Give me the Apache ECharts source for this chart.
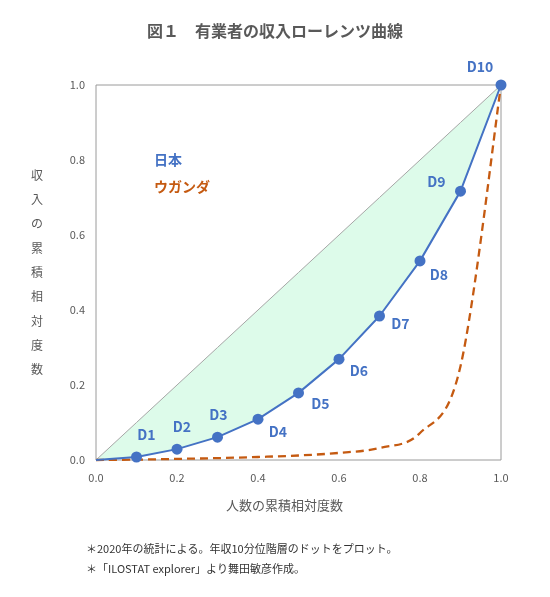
<!DOCTYPE html>
<html>
<head>
    <meta charset="UTF-8">
    <title>有業者の収入ローレンツ曲線</title>
    <script src="https://cdn.jsdelivr.net/npm/echarts@6/dist/echarts.min.js"></script>
    <style>
        html, body {margin: 0; padding: 0; background: #fff;}
        #main {width: 550px; height: 597px;}
    </style>
</head>
<body>
<div id="main"></div>
<script type="text/javascript">
    // 人数の累積相対度数（10分位）
    var popShare = [0, 0.1, 0.2, 0.3, 0.4, 0.5, 0.6, 0.7, 0.8, 0.9, 1.0];
    // 収入の累積相対度数
    var japan = [0, 0.008, 0.029, 0.061, 0.109, 0.179, 0.269, 0.384, 0.531, 0.717, 1.0];
    var uganda = [0, 0.001, 0.003, 0.005, 0.008, 0.012, 0.019, 0.032, 0.072, 0.25, 1.0];
    var decileNames = ['', 'D1', 'D2', 'D3', 'D4', 'D5', 'D6', 'D7', 'D8', 'D9', 'D10'];
    var axisTicks = ['0.0', '0.2', '0.4', '0.6', '0.8', '1.0'];

    var blue = '#4472c4';
    var orange = '#c55a11';
    var grey = '#595959';

    // ラベルの置き場所（点からのずれ）
    var labelOffset = {
        D1: [10, -22], D2: [5, -22], D3: [1, -22], D4: [20, 13], D5: [22, 11],
        D6: [20, 12], D7: [21, 8], D8: [19, 14], D9: [-24, -9], D10: [-21, -18]
    };

    var myChart = echarts.init(document.getElementById('main'));

    var pair = function (ys) {
        return popShare.map(function (x, i) { return [x, ys[i]]; });
    };

    var japanData = popShare.map(function (x, i) {
        var name = decileNames[i];
        var item = {value: [x, japan[i]]};
        if (name) {
            item.label = {show: true, formatter: name, position: 'inside', offset: labelOffset[name]};
        } else {
            item.symbolSize = 0;
        }
        return item;
    });

    // 均等分布線と日本の曲線の間を塗る
    var gapArea = function (params, api) {
        var upper = popShare.map(function (x) { return api.coord([x, x]); });
        var lower = popShare.map(function (x, i) { return api.coord([x, japan[i]]); }).reverse();
        return {
            type: 'polygon',
            shape: {points: upper.concat(lower)},
            style: {fill: '#ddfbea'}
        };
    };

    // ウガンダ：Excel風のなめらかな線（Catmull-Rom）
    var smoothCurve = function (params, api) {
        var p = popShare.map(function (x, i) { return api.coord([x, uganda[i]]); });
        var n = p.length;
        var d = 'M' + p[0][0] + ' ' + p[0][1];
        for (var i = 0; i < n - 1; i++) {
            var p0 = p[Math.max(i - 1, 0)], p1 = p[i], p2 = p[i + 1], p3 = p[Math.min(i + 2, n - 1)];
            var c1 = [p1[0] + (p2[0] - p0[0]) / 6, p1[1] + (p2[1] - p0[1]) / 6];
            var c2 = [p2[0] - (p3[0] - p1[0]) / 6, p2[1] - (p3[1] - p1[1]) / 6];
            d += 'C' + c1[0] + ' ' + c1[1] + ' ' + c2[0] + ' ' + c2[1] + ' ' + p2[0] + ' ' + p2[1];
        }
        return {
            type: 'path',
            shape: {pathData: d},
            style: {fill: null, stroke: orange, lineWidth: 2.3, lineDash: [8, 5]}
        };
    };

    myChart.setOption({
        animation: false,
        title: {
            text: '図１　有業者の収入ローレンツ曲線',
            left: 'center',
            top: 18,
            textStyle: {fontFamily: 'Noto Sans CJK JP', fontSize: 16, fontWeight: 'bold', color: grey}
        },
        grid: {
            left: 96, top: 85, right: 49, bottom: 137,
            show: true, borderColor: '#9a9a9a', borderWidth: 1
        },
        xAxis: {
            type: 'value', min: 0, max: 1, interval: 0.2,
            axisLine: {show: false}, axisTick: {show: false}, splitLine: {show: false},
            axisLabel: {
                color: grey, fontSize: 11, fontFamily: 'Noto Sans CJK JP', margin: 12,
                formatter: function (v) { return axisTicks[Math.round(v / 0.2)]; }
            }
        },
        yAxis: {
            type: 'value', min: 0, max: 1, interval: 0.2,
            axisLine: {show: false}, axisTick: {show: false}, splitLine: {show: false},
            axisLabel: {
                color: grey, fontSize: 11, fontFamily: 'Noto Sans CJK JP', margin: 11,
                formatter: function (v) { return axisTicks[Math.round(v / 0.2)]; }
            }
        },
        graphic: [
            {
                type: 'text', left: 31, top: 163,
                style: {
                    text: '収\n入\nの\n累\n積\n相\n対\n度\n数',
                    fill: grey, font: '12px "Noto Sans CJK JP"', lineHeight: 24.3
                }
            },
            {
                type: 'text', left: 226, top: 499,
                style: {text: '人数の累積相対度数', fill: grey, font: '13px "Noto Sans CJK JP"'}
            },
            {
                type: 'text', left: 154, top: 153,
                style: {text: '日本', fill: blue, font: 'bold 14px "Noto Sans CJK JP"'}
            },
            {
                type: 'text', left: 154, top: 180,
                style: {text: 'ウガンダ', fill: orange, font: 'bold 14px "Noto Sans CJK JP"'}
            },
            {
                type: 'text', left: 86, top: 539,
                style: {
                    text: '＊2020年の統計による。年収10分位階層のドットをプロット。\n＊「ILOSTAT explorer」より舞田敏彦作成。',
                    fill: '#333333', font: '11px "Noto Sans CJK JP"', lineHeight: 20
                }
            }
        ],
        series: [
            {
                name: 'gap', type: 'custom', renderItem: gapArea, data: [[0, 0]],
                silent: true, z: 1
            },
            {
                // 均等分布線
                name: '均等', type: 'line', data: pair(popShare), symbol: 'none',
                lineStyle: {color: '#a6a6a6', width: 1}, z: 2
            },
            {
                name: 'ウガンダ', type: 'custom', renderItem: smoothCurve, data: [[0, 0]],
                silent: true, z: 3
            },
            {
                name: '日本', type: 'line', data: japanData,
                symbol: 'circle', symbolSize: 11,
                itemStyle: {color: blue},
                lineStyle: {color: blue, width: 2}, z: 4,
                label: {color: blue, fontSize: 14, fontWeight: 'bold', fontFamily: 'Noto Sans CJK JP'}
            }
        ]
    });
</script>
</body>
</html>
